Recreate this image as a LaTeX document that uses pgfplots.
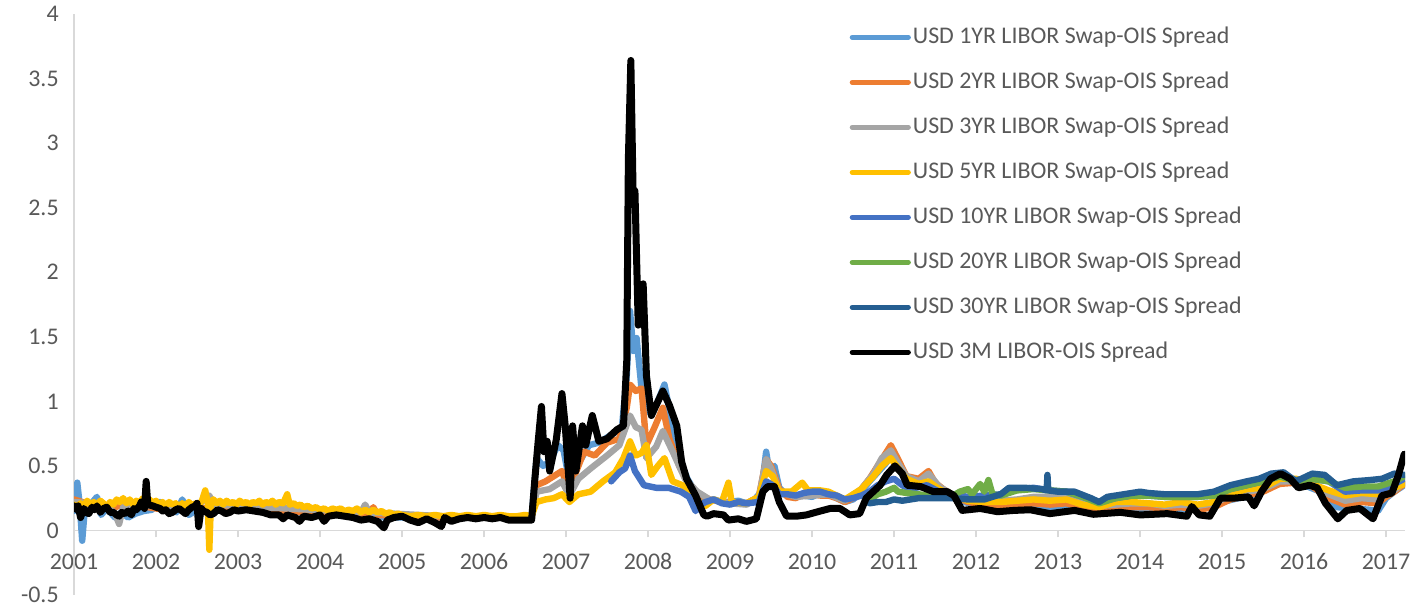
\documentclass[border=0pt]{standalone}
\usepackage{fontspec}
\setmainfont{Carlito}
\usepackage{pgfplots}
\pgfplotsset{compat=1.18}
\definecolor{txt}{HTML}{595959}
\definecolor{axgray}{HTML}{D9D9D9}
\definecolor{c1}{HTML}{5B9BD5}
\definecolor{c2}{HTML}{ED7D31}
\definecolor{c3}{HTML}{A5A5A5}
\definecolor{c5}{HTML}{FFC000}
\definecolor{c10}{HTML}{4472C4}
\definecolor{c20}{HTML}{70AD47}
\definecolor{c30}{HTML}{255E91}
\pgfplotsset{base/.style={scale only axis, width=665.5bp, height=290.5bp,
  xmin=2001, xmax=2017.23, ymin=-0.5, ymax=4,
  tick label style={font=\fontsize{12}{14}\selectfont, text=txt}}}
\begin{document}
\begin{tikzpicture}
\begin{axis}[base,
  axis x line=bottom, axis y line=none,
  x axis line style={draw=none}, xtick style={draw=none},
  xtick={2001,2002,...,2017},
  xticklabels={2001,2002,2003,2004,2005,2006,2007,2008,2009,2010,2011,2012,2013,2014,2015,2016,2017},
  xticklabel style={anchor=north, inner sep=0pt, yshift=23bp},
]
\end{axis}
\begin{axis}[base,
  axis x line=middle, axis y line=left,
  hide obscured x ticks=false, hide obscured y ticks=false,
  axis line style={-, draw=axgray, line width=0.8bp},
  xtick={2001,2002,...,2017}, xticklabels={},
  ytick={-0.5,0,0.5,1,1.5,2,2.5,3,3.5,4},
  yticklabels={-0.5,0,0.5,1,1.5,2,2.5,3,3.5,4},
  x tick style={draw=axgray, line width=0.8bp},
  y tick style={draw=none},
  tick align=outside,
  major tick length=3.5bp,
  yticklabel style={anchor=east, inner sep=0pt, xshift=-4bp},
  every axis plot/.append style={line join=round, line cap=round, line width=3.2bp},
  no markers,
  legend cell align=left,
  legend image code/.code={\draw[#1, line width=2.6bp] (0bp,0bp) -- (28bp,0bp);},
  legend style={draw=none, fill=none, at={(0.578,0.988)}, anchor=north west,
     font=\fontsize{12}{14}\selectfont, text=txt, row sep=10.5bp, column sep=0pt,
     nodes={inner xsep=1bp, inner ysep=0pt, text height=9bp, text depth=3bp}},
]
% 1YR
\addplot[c1] coordinates {
(2001.00,0.15)(2001.04,0.37)(2001.07,0.20)(2001.10,-0.08)(2001.13,0.15)(2001.20,0.20)(2001.28,0.26)(2001.33,0.12)
(2001.40,0.17)(2001.50,0.10)(2001.58,0.14)(2001.66,0.10)(2001.75,0.13)(2001.85,0.15)(2001.95,0.16)(2002.05,0.22)
(2002.15,0.18)(2002.25,0.14)(2002.32,0.24)(2002.40,0.12)(2002.50,0.16)(2002.60,0.17)(2002.70,0.15)(2002.80,0.21)
(2002.90,0.16)(2003.00,0.17)(2003.10,0.18)(2003.20,0.16)(2003.30,0.17)(2003.40,0.15)(2003.50,0.16)(2003.60,0.14)
(2003.70,0.15)(2003.80,0.13)(2003.90,0.12)(2004.00,0.14)(2004.10,0.13)(2004.20,0.12)(2004.40,0.12)(2004.60,0.11)
(2004.80,0.10)(2005.00,0.10)(2005.20,0.09)(2005.40,0.09)(2005.60,0.09)(2005.80,0.10)(2006.00,0.10)(2006.20,0.10)
(2006.40,0.10)(2006.58,0.10)(2006.64,0.56)(2006.72,0.50)(2006.80,0.53)(2006.90,0.66)(2006.97,0.62)(2007.04,0.38)
(2007.10,0.61)(2007.18,0.55)(2007.28,0.66)(2007.40,0.68)(2007.55,0.74)(2007.68,0.79)(2007.74,1.20)(2007.78,1.70)
(2007.82,1.39)(2007.86,1.49)(2007.92,1.10)(2008.00,0.92)(2008.10,0.97)(2008.20,1.13)(2008.28,0.87)(2008.38,0.56)
(2008.48,0.40)(2008.60,0.27)(2008.70,0.22)(2008.8,0.24)(2008.9,0.22)(2009.0,0.22)(2009.1,0.23)(2009.2,0.21)
(2009.3,0.24)(2009.38,0.30)(2009.44,0.61)(2009.48,0.45)(2009.54,0.50)(2009.6,0.33)(2009.7,0.27)(2009.8,0.26)
(2009.9,0.27)(2010.0,0.26)(2010.1,0.29)(2010.2,0.28)(2010.3,0.25)(2010.4,0.22)(2010.5,0.24)(2010.6,0.30)
(2010.7,0.38)(2010.8,0.45)(2010.9,0.52)(2010.96,0.58)(2011.05,0.48)(2011.15,0.38)(2011.25,0.36)(2011.4,0.37)
(2011.5,0.34)(2011.6,0.30)(2011.7,0.27)(2011.85,0.22)(2012.0,0.20)(2012.2,0.18)(2012.4,0.17)(2012.6,0.18)
(2012.8,0.17)(2013.0,0.17)(2013.2,0.17)(2013.4,0.15)(2013.6,0.16)(2013.8,0.16)(2014.0,0.16)(2014.2,0.17)
(2014.4,0.16)(2014.6,0.17)(2014.8,0.18)(2015.0,0.22)(2015.2,0.25)(2015.4,0.27)(2015.6,0.35)(2015.8,0.40)
(2016.0,0.35)(2016.2,0.30)(2016.4,0.18)(2016.6,0.17)(2016.8,0.16)(2016.9,0.15)(2017.0,0.25)(2017.1,0.30)(2017.22,0.35)
};
\addlegendentry{USD 1YR LIBOR Swap-OIS Spread}
% 2YR
\addplot[c2] coordinates {
(2001.00,0.24)(2001.1,0.22)(2001.2,0.20)(2001.3,0.21)(2001.4,0.19)(2001.5,0.18)(2001.6,0.20)(2001.7,0.18)
(2001.8,0.19)(2001.9,0.18)(2002.0,0.17)(2002.1,0.16)(2002.2,0.18)(2002.3,0.17)(2002.4,0.18)(2002.5,0.19)
(2002.6,0.17)(2002.7,0.18)(2002.8,0.17)(2003.0,0.18)(2003.2,0.17)(2003.4,0.16)(2003.6,0.15)(2003.8,0.14)
(2004.0,0.14)(2004.2,0.13)(2004.4,0.12)(2004.6,0.13)(2004.65,0.18)(2004.7,0.12)(2005.0,0.11)(2005.2,0.10)
(2005.5,0.10)(2005.8,0.11)(2006.0,0.10)(2006.3,0.10)(2006.58,0.10)(2006.64,0.35)(2006.75,0.38)(2006.85,0.42)
(2006.95,0.46)(2007.04,0.30)(2007.12,0.45)(2007.22,0.61)(2007.35,0.58)(2007.50,0.68)(2007.65,0.71)(2007.74,0.95)
(2007.78,1.13)(2007.85,1.08)(2007.92,1.10)(2007.98,0.66)(2008.08,0.80)(2008.18,0.95)(2008.26,0.71)(2008.38,0.50)
(2008.50,0.35)(2008.62,0.28)(2008.75,0.24)(2008.9,0.22)(2009.0,0.22)(2009.2,0.21)(2009.35,0.26)(2009.44,0.55)
(2009.5,0.50)(2009.6,0.32)(2009.7,0.26)(2009.8,0.25)(2009.9,0.28)(2010.0,0.28)(2010.1,0.27)(2010.2,0.27)
(2010.3,0.25)(2010.4,0.22)(2010.5,0.25)(2010.6,0.32)(2010.7,0.40)(2010.8,0.50)(2010.9,0.60)(2010.96,0.66)
(2011.05,0.55)(2011.15,0.42)(2011.3,0.40)(2011.42,0.46)(2011.5,0.37)(2011.6,0.32)(2011.75,0.26)(2011.9,0.22)
(2012.1,0.20)(2012.3,0.19)(2012.5,0.20)(2012.7,0.21)(2012.9,0.20)(2013.1,0.21)(2013.3,0.18)(2013.5,0.17)
(2013.7,0.17)(2013.9,0.18)(2014.1,0.18)(2014.3,0.17)(2014.5,0.18)(2014.7,0.16)(2014.9,0.18)(2015.1,0.24)
(2015.3,0.27)(2015.5,0.30)(2015.7,0.36)(2015.9,0.37)(2016.1,0.34)(2016.3,0.25)(2016.5,0.20)(2016.7,0.22)
(2016.9,0.21)(2017.0,0.26)(2017.1,0.30)(2017.22,0.36)
};
\addlegendentry{USD 2YR LIBOR Swap-OIS Spread}
% 3YR
\addplot[c3] coordinates {
(2001.0,0.22)(2001.2,0.21)(2001.4,0.19)(2001.5,0.13)(2001.55,0.05)(2001.6,0.18)(2001.8,0.19)(2002.0,0.19)
(2002.3,0.18)(2002.5,0.19)(2002.65,0.27)(2002.7,0.20)(2003.0,0.19)(2003.3,0.18)(2003.6,0.17)(2003.9,0.16)
(2004.2,0.15)(2004.5,0.14)(2004.55,0.20)(2004.6,0.14)(2004.9,0.13)(2005.2,0.12)(2005.5,0.11)(2005.8,0.11)
(2006.0,0.11)(2006.3,0.10)(2006.58,0.10)(2006.64,0.30)(2006.8,0.32)(2006.95,0.38)(2007.04,0.27)(2007.15,0.40)
(2007.3,0.48)(2007.5,0.58)(2007.65,0.66)(2007.78,0.89)(2007.85,0.80)(2007.92,0.78)(2007.98,0.56)(2008.1,0.65)
(2008.18,0.77)(2008.3,0.61)(2008.45,0.40)(2008.6,0.30)(2008.75,0.24)(2009.0,0.21)(2009.2,0.20)(2009.35,0.25)
(2009.44,0.55)(2009.5,0.48)(2009.6,0.30)(2009.8,0.26)(2010.0,0.27)(2010.2,0.28)(2010.4,0.23)(2010.6,0.32)
(2010.75,0.44)(2010.85,0.56)(2010.96,0.62)(2011.05,0.52)(2011.15,0.42)(2011.3,0.38)(2011.42,0.44)(2011.55,0.34)
(2011.7,0.28)(2011.9,0.24)(2012.1,0.23)(2012.3,0.23)(2012.5,0.24)(2012.7,0.26)(2012.9,0.26)(2013.1,0.25)
(2013.3,0.21)(2013.5,0.19)(2013.7,0.20)(2013.9,0.21)(2014.1,0.21)(2014.3,0.19)(2014.5,0.20)(2014.7,0.19)
(2014.9,0.21)(2015.1,0.27)(2015.3,0.30)(2015.5,0.32)(2015.7,0.38)(2015.9,0.38)(2016.1,0.35)(2016.3,0.28)
(2016.5,0.23)(2016.7,0.25)(2016.9,0.24)(2017.0,0.28)(2017.1,0.31)(2017.22,0.37)
};
\addlegendentry{USD 3YR LIBOR Swap-OIS Spread}
% 5YR
\addplot[c5] coordinates {
(2001.00,0.20)(2001.04,0.18)(2001.08,0.21)(2001.12,0.19)(2001.16,0.23)(2001.20,0.20)(2001.24,0.22)(2001.28,0.19)
(2001.32,0.23)(2001.36,0.21)(2001.40,0.18)(2001.44,0.22)(2001.48,0.20)(2001.52,0.24)(2001.56,0.22)(2001.60,0.25)
(2001.64,0.21)(2001.68,0.24)(2001.72,0.20)(2001.76,0.23)(2001.80,0.21)(2001.84,0.25)(2001.88,0.22)(2001.92,0.24)
(2001.96,0.21)(2002.00,0.23)(2002.04,0.20)(2002.08,0.22)(2002.12,0.19)(2002.16,0.22)(2002.20,0.20)(2002.24,0.21)
(2002.28,0.18)(2002.32,0.21)(2002.36,0.19)(2002.40,0.22)(2002.44,0.19)(2002.48,0.21)(2002.52,0.20)(2002.56,0.23)
(2002.60,0.31)(2002.63,0.22)(2002.65,-0.15)(2002.67,0.22)(2002.70,0.24)(2002.74,0.21)(2002.78,0.23)(2002.82,0.20)
(2002.86,0.23)(2002.90,0.21)(2002.94,0.22)(2002.98,0.20)(2003.02,0.23)(2003.06,0.21)(2003.10,0.22)(2003.14,0.20)
(2003.18,0.22)(2003.22,0.21)(2003.26,0.23)(2003.30,0.20)(2003.34,0.22)(2003.38,0.21)(2003.42,0.23)(2003.46,0.20)
(2003.50,0.22)(2003.55,0.21)(2003.60,0.28)(2003.63,0.20)(2003.68,0.21)(2003.72,0.19)(2003.76,0.20)(2003.80,0.18)
(2003.85,0.19)(2003.90,0.17)(2003.95,0.18)(2004.00,0.16)(2004.05,0.17)(2004.10,0.15)(2004.15,0.17)(2004.20,0.16)
(2004.25,0.17)(2004.30,0.15)(2004.35,0.16)(2004.40,0.15)(2004.45,0.17)(2004.50,0.14)(2004.55,0.16)(2004.60,0.14)
(2004.65,0.16)(2004.70,0.14)(2004.75,0.15)(2004.80,0.13)(2004.85,0.14)(2004.90,0.12)(2004.95,0.13)(2005.0,0.12)
(2005.1,0.11)(2005.2,0.12)(2005.3,0.11)(2005.4,0.12)(2005.5,0.11)(2005.6,0.12)(2005.7,0.11)(2005.8,0.12)
(2005.9,0.11)(2006.0,0.12)(2006.1,0.11)(2006.2,0.12)(2006.3,0.11)(2006.4,0.11)(2006.5,0.12)(2006.58,0.11)
(2006.64,0.22)(2006.75,0.24)(2006.85,0.25)
(2006.95,0.28)(2007.04,0.22)(2007.15,0.28)(2007.3,0.30)(2007.45,0.38)(2007.6,0.45)(2007.7,0.56)(2007.78,0.69)
(2007.85,0.58)(2007.92,0.60)(2007.98,0.66)(2008.04,0.43)(2008.12,0.50)(2008.2,0.56)(2008.3,0.38)(2008.42,0.35)
(2008.55,0.25)(2008.7,0.19)(2008.8,0.24)(2008.9,0.22)(2008.98,0.37)(2009.02,0.22)(2009.2,0.21)(2009.35,0.26)
(2009.44,0.46)(2009.52,0.42)(2009.6,0.30)(2009.75,0.30)(2009.88,0.37)(2009.95,0.31)(2010.1,0.31)(2010.2,0.30)
(2010.4,0.24)(2010.6,0.32)(2010.75,0.42)(2010.85,0.50)(2010.96,0.56)(2011.05,0.48)(2011.15,0.40)(2011.3,0.36)
(2011.42,0.38)(2011.55,0.32)(2011.7,0.27)(2011.9,0.23)(2012.1,0.22)(2012.3,0.22)(2012.5,0.23)(2012.7,0.24)
(2012.9,0.23)(2013.1,0.24)(2013.3,0.20)(2013.5,0.18)(2013.7,0.22)(2013.9,0.22)(2014.1,0.21)(2014.3,0.20)
(2014.5,0.22)(2014.7,0.20)(2014.9,0.22)(2015.1,0.28)(2015.3,0.32)(2015.5,0.33)(2015.7,0.40)(2015.9,0.40)
(2016.1,0.36)(2016.3,0.31)(2016.5,0.27)(2016.7,0.29)(2016.9,0.28)(2017.0,0.31)(2017.1,0.33)(2017.22,0.36)
};
\addlegendentry{USD 5YR LIBOR Swap-OIS Spread}
% 10YR
\addplot[c10] coordinates {
(2007.55,0.38)(2007.65,0.45)(2007.72,0.48)(2007.78,0.58)(2007.84,0.46)(2007.95,0.35)(2008.1,0.33)(2008.25,0.33)
(2008.4,0.30)(2008.5,0.26)(2008.58,0.15)(2008.62,0.19)(2008.7,0.22)(2008.8,0.24)(2008.9,0.21)(2009.0,0.20)
(2009.1,0.22)(2009.2,0.21)(2009.35,0.22)(2009.44,0.38)(2009.52,0.35)(2009.6,0.28)(2009.7,0.28)(2009.8,0.27)
(2009.9,0.29)(2010.0,0.30)(2010.1,0.30)(2010.2,0.28)(2010.3,0.27)(2010.4,0.24)(2010.5,0.25)(2010.6,0.27)
(2010.7,0.30)(2010.8,0.35)(2010.9,0.38)(2011.0,0.40)(2011.1,0.35)(2011.2,0.32)(2011.4,0.35)(2011.55,0.30)
(2011.7,0.28)(2011.9,0.26)(2012.1,0.27)(2012.3,0.28)(2012.5,0.32)(2012.7,0.33)(2012.9,0.31)(2013.1,0.30)
(2013.3,0.26)(2013.5,0.22)(2013.7,0.25)(2013.9,0.27)(2014.1,0.27)(2014.3,0.26)(2014.5,0.26)(2014.7,0.26)
(2014.9,0.27)(2015.1,0.32)(2015.3,0.35)(2015.5,0.38)(2015.7,0.42)(2015.9,0.39)(2016.1,0.40)(2016.3,0.38)
(2016.5,0.30)(2016.7,0.31)(2016.9,0.31)(2017.0,0.33)(2017.1,0.36)(2017.22,0.40)
};
\addlegendentry{USD 10YR LIBOR Swap-OIS Spread}
% 20YR
\addplot[c20] coordinates {
(2010.7,0.24)(2010.8,0.28)(2010.9,0.30)(2011.0,0.33)(2011.05,0.30)(2011.15,0.29)(2011.3,0.28)(2011.5,0.26)
(2011.7,0.26)(2011.8,0.30)(2011.9,0.32)(2011.95,0.28)(2012.05,0.36)(2012.1,0.30)(2012.15,0.39)(2012.2,0.28)
(2012.3,0.27)(2012.5,0.31)(2012.7,0.32)(2012.9,0.31)(2013.1,0.30)(2013.3,0.26)(2013.5,0.21)(2013.7,0.25)
(2013.9,0.27)(2014.1,0.27)(2014.3,0.26)(2014.5,0.26)(2014.7,0.26)(2014.9,0.27)(2015.1,0.32)(2015.3,0.35)
(2015.5,0.38)(2015.7,0.42)(2015.9,0.38)(2016.1,0.40)(2016.3,0.38)(2016.5,0.33)(2016.7,0.34)(2016.9,0.34)
(2017.0,0.36)(2017.1,0.38)(2017.22,0.42)
};
\addlegendentry{USD 20YR LIBOR Swap-OIS Spread}
% 30YR
\addplot[c30] coordinates {
(2010.7,0.21)(2010.8,0.22)(2010.9,0.22)(2011.0,0.24)(2011.1,0.23)(2011.2,0.24)(2011.3,0.25)(2011.5,0.25)
(2011.7,0.25)(2011.9,0.24)(2012.1,0.24)(2012.3,0.28)(2012.4,0.33)(2012.6,0.33)(2012.8,0.32)(2012.86,0.31)
(2012.87,0.43)(2012.88,0.31)(2013.0,0.30)(2013.2,0.30)(2013.4,0.25)(2013.5,0.22)(2013.6,0.26)(2013.8,0.28)
(2014.0,0.30)(2014.1,0.29)(2014.3,0.28)(2014.5,0.28)(2014.7,0.28)(2014.9,0.30)(2015.1,0.35)(2015.3,0.38)
(2015.45,0.40)(2015.6,0.44)(2015.75,0.45)(2015.9,0.38)(2016.1,0.44)(2016.25,0.43)(2016.4,0.35)(2016.6,0.38)
(2016.8,0.39)(2016.95,0.40)(2017.1,0.44)(2017.22,0.43)
};
\addlegendentry{USD 30YR LIBOR Swap-OIS Spread}
% 3M
\addplot[black, line width=3.5bp] coordinates {
(2001.00,0.19)(2001.03,0.16)(2001.05,0.19)(2001.08,0.10)(2001.12,0.17)(2001.15,0.14)(2001.18,0.13)(2001.22,0.18)
(2001.25,0.16)(2001.28,0.19)(2001.32,0.14)(2001.36,0.17)(2001.40,0.18)(2001.44,0.14)(2001.48,0.14)(2001.52,0.12)
(2001.55,0.11)(2001.58,0.14)(2001.62,0.13)(2001.66,0.15)(2001.70,0.12)(2001.73,0.17)(2001.76,0.16)(2001.80,0.19)
(2001.82,0.22)(2001.86,0.17)(2001.88,0.38)(2001.90,0.20)(2001.96,0.19)(2002.00,0.18)(2002.05,0.17)(2002.08,0.15)
(2002.12,0.16)(2002.16,0.13)(2002.20,0.14)(2002.24,0.16)(2002.28,0.17)(2002.32,0.15)(2002.36,0.13)(2002.40,0.16)
(2002.44,0.18)(2002.48,0.19)(2002.50,0.21)(2002.52,0.03)(2002.55,0.17)(2002.58,0.15)(2002.62,0.14)(2002.66,0.12)
(2002.70,0.13)(2002.75,0.16)(2002.80,0.15)(2002.85,0.13)(2002.90,0.14)(2002.95,0.16)(2003.00,0.15)
(2003.10,0.16)(2003.20,0.15)(2003.30,0.14)(2003.40,0.12)(2003.50,0.12)(2003.55,0.09)(2003.60,0.12)(2003.70,0.10)
(2003.75,0.07)(2003.80,0.11)(2003.90,0.10)(2004.00,0.12)(2004.05,0.07)(2004.10,0.11)(2004.20,0.12)(2004.30,0.11)
(2004.40,0.10)(2004.50,0.08)(2004.60,0.09)(2004.70,0.07)(2004.78,0.02)(2004.82,0.08)(2004.90,0.10)(2005.00,0.11)
(2005.10,0.08)(2005.20,0.06)(2005.30,0.09)(2005.40,0.06)(2005.48,0.03)(2005.52,0.10)(2005.60,0.07)(2005.70,0.09)
(2005.80,0.10)(2005.90,0.09)(2006.00,0.10)(2006.10,0.09)(2006.20,0.10)(2006.30,0.08)(2006.40,0.08)(2006.50,0.08)
(2006.58,0.08)(2006.62,0.40)(2006.66,0.69)(2006.70,0.96)(2006.73,0.61)(2006.77,0.69)(2006.80,0.46)(2006.88,0.70)
(2006.95,1.06)(2006.99,0.81)(2007.05,0.25)(2007.08,0.81)(2007.12,0.46)(2007.20,0.81)(2007.24,0.66)(2007.32,0.89)
(2007.40,0.69)(2007.50,0.71)(2007.62,0.78)(2007.70,0.81)(2007.74,1.31)(2007.76,2.88)(2007.79,3.64)(2007.82,2.52)
(2007.84,2.63)(2007.88,1.59)(2007.94,1.91)(2007.98,1.20)(2008.04,0.89)(2008.18,1.08)(2008.26,0.97)(2008.35,0.81)
(2008.41,0.53)(2008.47,0.40)(2008.58,0.27)(2008.68,0.12)(2008.72,0.11)(2008.80,0.13)(2008.92,0.12)(2008.98,0.08)
(2009.10,0.09)(2009.20,0.07)(2009.32,0.09)(2009.40,0.30)(2009.46,0.34)(2009.54,0.34)(2009.60,0.22)(2009.69,0.11)
(2009.81,0.11)(2009.93,0.12)(2010.10,0.15)(2010.22,0.17)(2010.34,0.17)(2010.46,0.12)(2010.58,0.13)(2010.66,0.25)
(2010.83,0.35)(2010.91,0.43)(2011.01,0.50)(2011.10,0.44)(2011.16,0.35)(2011.32,0.34)(2011.48,0.30)(2011.65,0.30)
(2011.73,0.27)(2011.83,0.155)(2012.05,0.17)(2012.26,0.145)(2012.46,0.155)(2012.66,0.16)(2012.90,0.13)(2013.2,0.155)
(2013.43,0.125)(2013.76,0.14)(2014.0,0.12)(2014.33,0.13)(2014.57,0.11)(2014.63,0.185)(2014.72,0.12)(2014.85,0.11)
(2014.98,0.25)(2015.14,0.25)(2015.32,0.26)(2015.39,0.19)(2015.48,0.30)(2015.59,0.40)(2015.71,0.44)(2015.83,0.40)
(2015.93,0.33)(2016.07,0.35)(2016.16,0.33)(2016.26,0.21)(2016.41,0.09)(2016.52,0.155)(2016.68,0.17)(2016.84,0.09)
(2016.95,0.27)(2017.07,0.29)(2017.15,0.43)(2017.22,0.59)
};
\addlegendentry{USD 3M LIBOR-OIS Spread}
\end{axis}
\path ([xshift=-37bp,yshift=-5.5bp]current axis.south west) rectangle ([xshift=3.5bp,yshift=7bp]current axis.north east);
\end{tikzpicture}
\end{document}
